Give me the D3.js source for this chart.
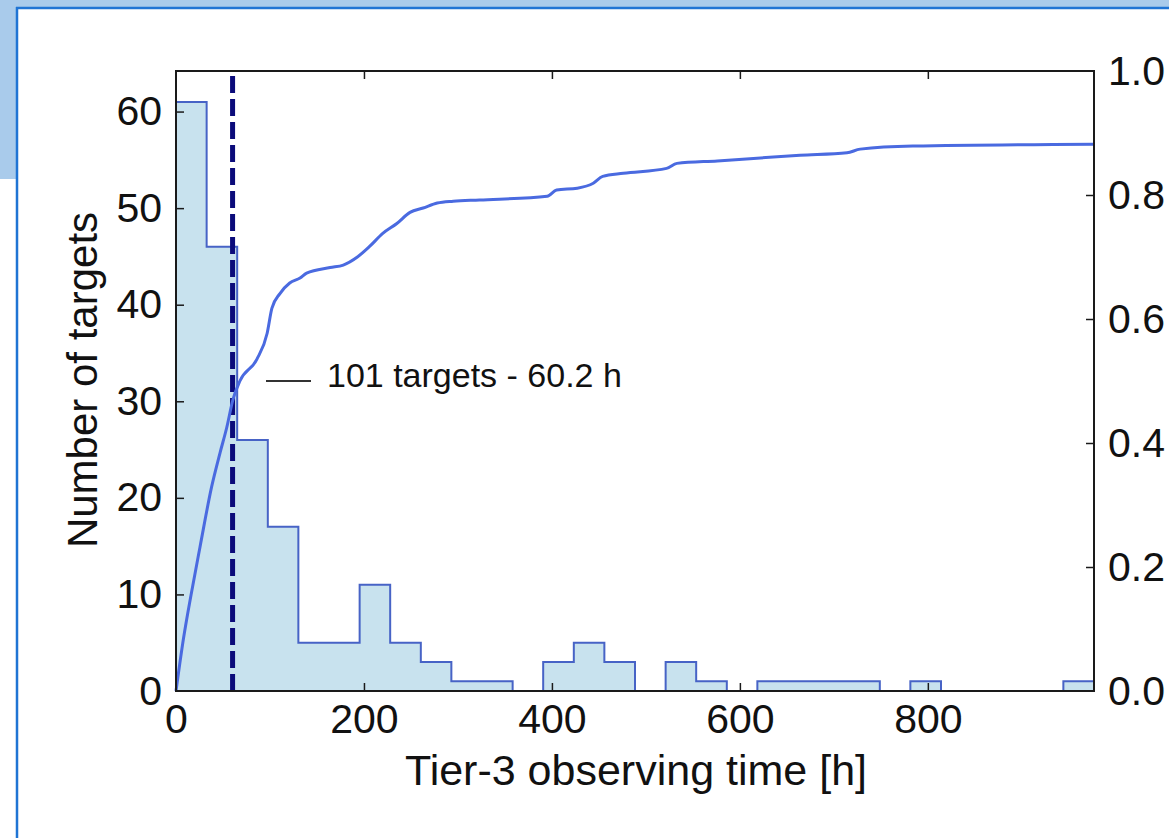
<!DOCTYPE html>
<html>
<head>
<meta charset="utf-8">
<script src="https://cdn.jsdelivr.net/npm/d3@7"></script>
<style>
  html, body { margin: 0; padding: 0; background: #ffffff; }
  svg { display: block; }
  text { font-family: "Liberation Sans", Arial, Helvetica, sans-serif; fill: #111; }
</style>
</head>
<body>
<svg id="chart" width="1169" height="838"></svg>
<script>
// ---- data ----
const binEdges = [0, 32.6, 65.1, 97.7, 130.2, 162.8, 195.4, 227.9, 260.5, 293.0, 325.6,
  358.2, 390.7, 423.3, 455.8, 488.4, 521.0, 553.5, 586.1, 618.6, 651.2,
  683.8, 716.3, 748.9, 781.4, 814.0, 846.6, 879.1, 911.7, 944.2, 976.8];
const binCounts = [61, 46, 26, 17, 5, 5, 11, 5, 3, 1, 1, 0, 3, 5, 3, 0, 3, 1, 0, 1,
  1, 1, 1, 0, 1, 0, 0, 0, 0, 1];
const cumHours = [0, 8, 16, 25.5, 38, 47, 54, 60.6, 68, 86, 97, 102, 110.6, 121, 132, 139, 164, 178,
  193, 206, 220, 235, 249, 263, 278, 295, 323, 395, 405, 427, 444, 454, 476, 522, 533,
  576, 664, 714, 728, 784, 976.8];
const cumFraction = [0, 0.085, 0.155, 0.232, 0.330, 0.385, 0.425, 0.470, 0.500, 0.535, 0.577, 0.617, 0.641,
  0.658, 0.666, 0.674, 0.683, 0.687, 0.700, 0.717, 0.738, 0.754, 0.772, 0.779, 0.787,
  0.790, 0.792, 0.798, 0.808, 0.811, 0.819, 0.830, 0.835, 0.843, 0.851, 0.855, 0.864,
  0.868, 0.874, 0.879, 0.882];
const xTicks = [0, 200, 400, 600, 800];
const yLeftTicks = [0, 10, 20, 30, 40, 50, 60];
const yRightTicks = [0.0, 0.2, 0.4, 0.6, 0.8, 1.0];
const medianHours = 60.2;
const annotationText = "101 targets - 60.2 h";
const xLabel = "Tier-3 observing time [h]";
const yLabel = "Number of targets";

// ---- layout ----
const svg = d3.select("#chart");
const W = 1169, H = 838;
const L = 176, T = 71, R = 1094, B = 691;

// page decoration
svg.append("rect").attr("x", 0).attr("y", 0).attr("width", W).attr("height", 179).attr("fill", "#a9cbeb");
svg.append("rect").attr("x", 17).attr("y", 8).attr("width", W - 17).attr("height", H - 8).attr("fill", "#ffffff");
svg.append("line").attr("x1", 17).attr("x2", 17).attr("y1", 7).attr("y2", H).attr("stroke", "#1f74d4").attr("stroke-width", 2.5);
svg.append("line").attr("x1", 16).attr("x2", W).attr("y1", 8).attr("y2", 8).attr("stroke", "#1f74d4").attr("stroke-width", 2.5);

const x = d3.scaleLinear().domain([0, 976.8]).range([L, R]);
const yL = d3.scaleLinear().domain([0, 64.2]).range([B, T]);
const yR = d3.scaleLinear().domain([0, 1]).range([B, T]);

// histogram (step filled)
const stepPts = [];
binCounts.forEach((c, i) => {
  stepPts.push([binEdges[i], c]);
  stepPts.push([binEdges[i + 1], c]);
});
const histPath = [[binEdges[0], 0], ...stepPts, [binEdges[binEdges.length - 1], 0]];
svg.append("path")
  .attr("d", d3.line().x(d => x(d[0])).y(d => yL(d[1]))(histPath) + "Z")
  .attr("fill", "#c8e2ee")
  .attr("stroke", "#4763c6")
  .attr("stroke-width", 2)
  .attr("stroke-linejoin", "miter");

// dashed vertical line
svg.append("line")
  .attr("x1", x(medianHours)).attr("x2", x(medianHours))
  .attr("y1", B).attr("y2", T)
  .attr("stroke", "#0b0b7a").attr("stroke-width", 5)
  .attr("stroke-dasharray", "17,6");

// cumulative curve
const cum = cumHours.map((h, i) => [h, cumFraction[i]]);
svg.append("path")
  .attr("d", d3.line().x(d => x(d[0])).y(d => yR(d[1])).curve(d3.curveMonotoneX)(cum))
  .attr("fill", "none")
  .attr("stroke", "#4a6ae0")
  .attr("stroke-width", 3)
  .attr("stroke-linejoin", "round");

// frame
svg.append("rect").attr("x", L).attr("y", T).attr("width", R - L).attr("height", B - T)
  .attr("fill", "none").attr("stroke", "#1a1a1a").attr("stroke-width", 2);

// axes
const tickFont = 41;
const gB = svg.append("g").attr("transform", `translate(0,${B})`)
  .call(d3.axisBottom(x).tickValues(xTicks).tickSize(-8).tickPadding(13).tickFormat(d3.format("d")));
const gT = svg.append("g").attr("transform", `translate(0,${T})`)
  .call(d3.axisTop(x).tickValues(xTicks).tickSize(-8).tickFormat(""));
const gL = svg.append("g").attr("transform", `translate(${L},0)`)
  .call(d3.axisLeft(yL).tickValues(yLeftTicks).tickSize(-8).tickPadding(14).tickFormat(d3.format("d")));
const gR = svg.append("g").attr("transform", `translate(${R},0)`)
  .call(d3.axisRight(yR).tickValues(yRightTicks).tickSize(-8).tickPadding(14).tickFormat(d3.format(".1f")));
[gB, gT, gL, gR].forEach(g => {
  g.select(".domain").remove();
  g.selectAll(".tick line").attr("stroke", "#1a1a1a").attr("stroke-width", 1.5);
  g.selectAll(".tick text").attr("font-size", tickFont).attr("fill", "#111")
    .attr("font-family", "'Liberation Sans', Arial, Helvetica, sans-serif");
});
gB.selectAll(".tick line").filter(d => d === 0).remove();
gT.selectAll(".tick line").filter(d => d === 0).remove();
gL.selectAll(".tick line").filter(d => d === 0).remove();
gR.selectAll(".tick line").filter(d => d === 0 || d === 1).remove();

// axis labels
svg.append("text").attr("x", 636).attr("y", 785).attr("text-anchor", "middle")
  .attr("font-size", 43).text(xLabel);
svg.append("text").attr("transform", "translate(97,380) rotate(-90)").attr("text-anchor", "middle")
  .attr("font-size", 42).text(yLabel);

// annotation
svg.append("line").attr("x1", 266).attr("x2", 311).attr("y1", 381).attr("y2", 381)
  .attr("stroke", "#333").attr("stroke-width", 2);
svg.append("text").attr("x", 327).attr("y", 387).attr("font-size", 34).attr("fill", "#222").text(annotationText);
</script>
</body>
</html>
